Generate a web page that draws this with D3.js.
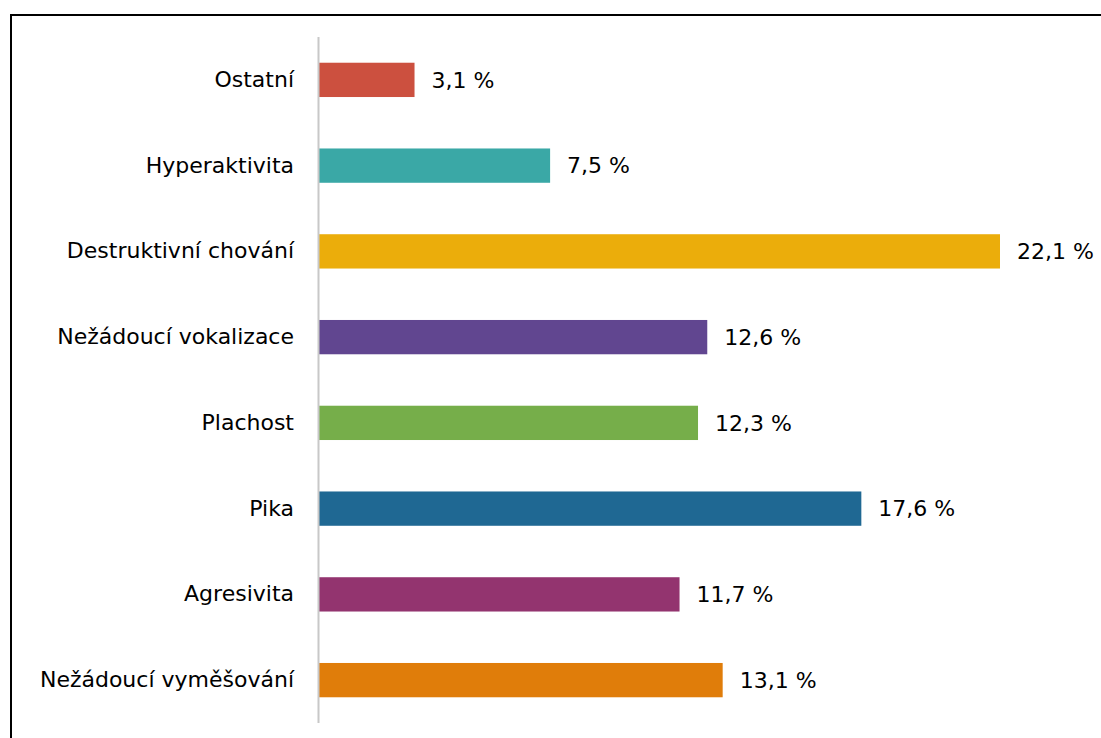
<!DOCTYPE html>
<html>
<head>
<meta charset="utf-8">
<script src="https://cdn.jsdelivr.net/npm/d3@7"></script>
<style>
  body { margin: 0; background: #fff; }
  svg { display: block; }
</style>
</head>
<body>
<div class="chart"></div>
<script>
var svgWidth = 1101;
var svgHeight = 738;

// data (top to bottom)
var categories = ["Ostatní", "Hyperaktivita", "Destruktivní chování", "Nežádoucí vokalizace",
  "Plachost", "Pika", "Agresivita", "Nežádoucí vyměšování"];
var values = [3.1, 7.5, 22.1, 12.6, 12.3, 17.6, 11.7, 13.1];
var colors = ["#cc503f", "#3aa8a6", "#ebad0b", "#614690", "#76ae4a", "#1f6893", "#93346f", "#e07d0a"];

var data = categories.map(function(c, i) {
  return { cat: c, value: values[i], color: colors[i] };
});

// no serif face is available here, DejaVu Sans gives the closest text widths
var fontFamily = "'DejaVu Sans', sans-serif";

var svg = d3.select(".chart")
  .append("svg")
  .attr("width", svgWidth)
  .attr("height", svgHeight);

// outer frame (runs off the right and bottom edges)
svg.append("rect")
  .attr("x", 11)
  .attr("y", 15)
  .attr("width", 1200)
  .attr("height", 800)
  .attr("fill", "none")
  .attr("stroke", "#000")
  .attr("stroke-width", 2);

var x0 = 319;
var xScale = d3.scaleLinear()
  .domain([0, 22.1])
  .range([x0, 1000]);

var yScale = d3.scaleBand()
  .domain(categories)
  .range([37, 723])
  .paddingInner(0.6)
  .paddingOuter(0.3);

// bars
svg.selectAll("rect.bar")
  .data(data)
  .enter()
  .append("rect")
  .classed("bar", true)
  .attr("x", xScale(0))
  .attr("y", d => yScale(d.cat))
  .attr("width", d => xScale(d.value) - xScale(0))
  .attr("height", yScale.bandwidth())
  .attr("fill", d => d.color);

// category axis
var leftAxis = d3.axisLeft(yScale).tickSize(0).tickPadding(24);
var axisG = svg.append("g")
  .attr("transform", `translate(${x0 - 1}, 0)`)
  .call(leftAxis)
  .attr("font-family", fontFamily)
  .attr("font-size", 22);
axisG.select(".domain")
  .attr("d", "M0.5,37V723")
  .attr("stroke", "#c8c8c8")
  .attr("stroke-width", 2);
axisG.selectAll("text")
  .attr("fill", "#000");

// value labels
svg.selectAll("text.val")
  .data(data)
  .enter()
  .append("text")
  .classed("val", true)
  .attr("x", d => xScale(d.value) + 17)
  .attr("y", d => yScale(d.cat) + yScale.bandwidth() / 2)
  .attr("dy", "0.35em")
  .attr("font-family", fontFamily)
  .attr("font-size", 22)
  .attr("fill", "#000")
  .text(d => d.value.toFixed(1).replace(".", ",") + " %");
</script>
</body>
</html>
